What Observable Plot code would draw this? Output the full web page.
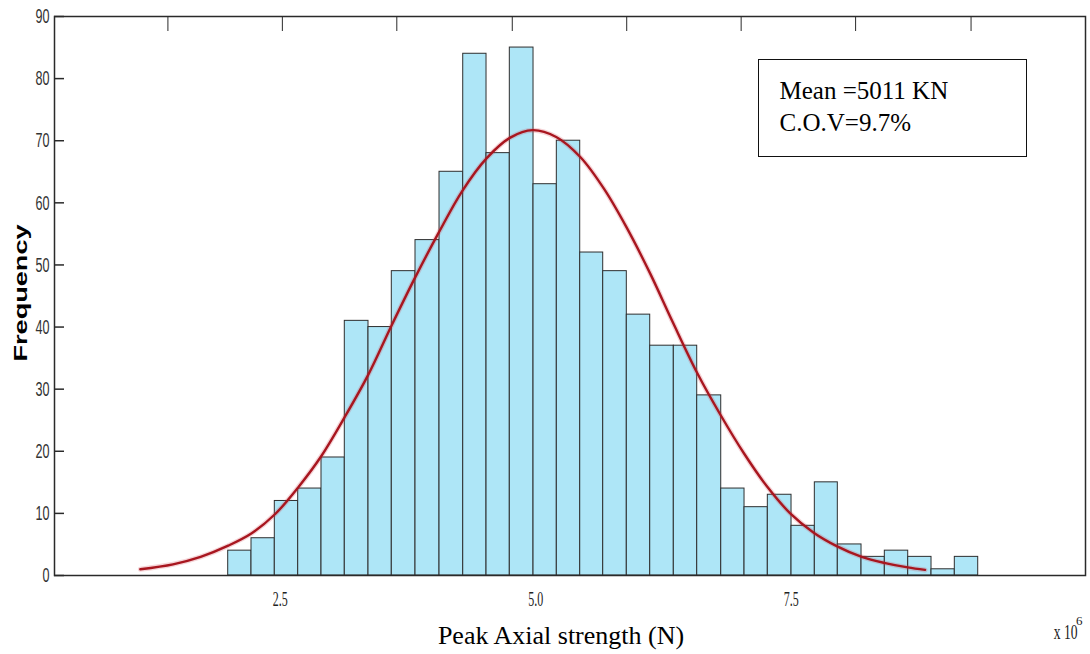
<!DOCTYPE html>
<html>
<head>
<meta charset="utf-8">
<script src="https://cdn.jsdelivr.net/npm/d3@7"></script>
<script src="https://cdn.jsdelivr.net/npm/@observablehq/plot@0.6"></script>
<style>
  html, body { margin: 0; padding: 0; background: #fff; }
  #chart svg { display: block; }
</style>
</head>
<body>
<div id="chart"></div>
<script>
// Histogram bin edges (×10^6 N) and frequencies
const binEdges = [1.990, 2.218, 2.446, 2.675, 2.903, 3.131, 3.363, 3.591, 3.823, 4.058,
                  4.290, 4.518, 4.746, 4.978, 5.206, 5.435, 5.660, 5.891, 6.120, 6.351,
                  6.580, 6.815, 7.043, 7.271, 7.503, 7.731, 7.956, 8.188, 8.416, 8.645,
                  8.873, 9.101, 9.330];
const counts = [4, 6, 12, 14, 19, 41, 40, 49, 54, 65, 84, 68, 85, 63, 70, 52,
                49, 42, 37, 37, 29, 14, 11, 13, 8, 15, 5, 3, 4, 3, 1, 3];

// Fitted normal curve, sampled points
const fitX = [1.13, 1.45, 1.72, 1.99, 2.22, 2.45, 2.68, 2.90, 3.13, 3.36, 3.59, 3.82,
              4.05, 4.28, 4.52, 4.75, 4.97, 5.20, 5.44, 5.67, 5.89, 6.12, 6.34,
              6.58, 6.81, 7.04, 7.26, 7.49, 7.72, 7.95, 8.19, 8.42, 8.64, 8.81];
const fitY = [1.0, 1.8, 3.0, 4.8, 6.8, 9.9, 14.3, 19.2, 25.5, 32.3, 40.3, 48.0,
              55.2, 61.9, 67.2, 70.5, 71.7, 70.6, 67.3, 62.2, 56.0, 48.6, 40.8,
              32.6, 25.8, 19.6, 14.4, 10.0, 6.9, 4.7, 3.0, 2.0, 1.3, 0.9];

// Axis ticks
const yTicks = [0, 10, 20, 30, 40, 50, 60, 70, 80, 90];
const xTickValues = [2.5, 5.0, 7.5];
const topTickValues = [1.40, 2.52, 3.64, 4.77, 5.89, 7.01, 8.13, 9.26];

// Text
const xTitle = "Peak Axial strength (N)";
const yTitle = "Frequency";
const xExponentBase = "x 10";
const xExponent = "6";
const statsText = "Mean =5011 KN\nC.O.V=9.7%";

const bins = counts.map((c, i) => ({lo: binEdges[i], hi: binEdges[i + 1], count: c}));
const fit = fitX.map((x, i) => ({x, y: fitY[i]}));

const serif = "'Liberation Serif', 'Times New Roman', serif";
const sans = "'Liberation Sans', Arial, sans-serif";

const plot = Plot.plot({
  width: 1090,
  height: 654,
  marginLeft: 54,
  marginRight: 5,
  marginTop: 16,
  marginBottom: 79,
  style: {background: "#fff", overflow: "visible"},
  x: {domain: [0.29, 10.38]},
  y: {domain: [0, 90]},
  marks: [
    Plot.rectY(bins, {x1: "lo", x2: "hi", y: "count", fill: "#aee6f7", stroke: "#2e2e2e", strokeWidth: 1}),
    // soft halo under the fitted curve
    Plot.line(fit, {x: "x", y: "y", curve: "catmull-rom", stroke: "#d0404e", strokeWidth: 5, strokeOpacity: 0.22}),
    Plot.line(fit, {x: "x", y: "y", curve: "catmull-rom", stroke: "#a8161f", strokeWidth: 2.4}),
    Plot.frame({stroke: "#2a2a2a", strokeWidth: 1.5}),
    // inward y ticks and top ticks
    Plot.tickY(yTicks, {y: d => d, insetRight: 1021, stroke: "#2a2a2a", strokeWidth: 1.5}),
    Plot.tickX(topTickValues, {x: d => d, insetBottom: 544, stroke: "#2a2a2a", strokeWidth: 1}),
    Plot.axisY({ticks: yTicks, tickSize: 0, tickPadding: 5, label: null, fontSize: 21,
                fontFamily: sans, fill: "#333"}),
    Plot.axisX({ticks: xTickValues, tickFormat: d => d.toFixed(1), tickSize: 0, tickPadding: 16,
                label: null, fontSize: 20, fontFamily: serif, fill: "#222"}),
    // axis titles
    Plot.text([xTitle], {text: d => d, frameAnchor: "bottom", dx: -9, dy: 68, lineAnchor: "bottom",
                         fontSize: 26, fontFamily: serif, fill: "#000"}),
    Plot.text([yTitle], {text: d => d, frameAnchor: "left", textAnchor: "middle", rotate: -90, dx: -28, dy: -3,
                         lineAnchor: "bottom", fontSize: 17.5, fontWeight: "bold", fontFamily: sans,
                         fill: "#000"}),
    Plot.text([xExponentBase], {text: d => d, frameAnchor: "bottom-right", textAnchor: "end",
                                dx: -8, dy: 63, lineAnchor: "bottom", fontSize: 20, fontFamily: serif,
                                fill: "#222"}),
    Plot.text([xExponent], {text: d => d, frameAnchor: "bottom-right", textAnchor: "end",
                            dx: -3, dy: 49, lineAnchor: "bottom", fontSize: 13, fontFamily: serif,
                            fill: "#222"}),
    // statistics box
    Plot.frame({insetLeft: 704, insetRight: 59, insetTop: 43, insetBottom: 419, stroke: "#111", strokeWidth: 1}),
    Plot.text([statsText], {text: d => d, frameAnchor: "top-left", dx: 725, dy: 60, lineAnchor: "top",
                            lineHeight: 1.28, textAnchor: "start", fontSize: 25, fontFamily: serif, fill: "#000"})
  ]
});

document.getElementById("chart").appendChild(plot);

// Narrow (horizontally compressed) tick lettering and a stretched y title
function squeeze(el, sx) {
  const t = el.getAttribute("transform");
  if (t) {
    el.setAttribute("transform", `${t} scale(${sx},1)`);
  } else {
    const x = +el.getAttribute("x") || 0, y = +el.getAttribute("y") || 0;
    el.removeAttribute("x"); el.removeAttribute("y");
    el.setAttribute("transform", `translate(${x},${y}) scale(${sx},1)`);
  }
}
const tickStrings = new Set([...yTicks.map(String), ...xTickValues.map(d => d.toFixed(1))]);
d3.select(plot).selectAll("text").each(function() {
  const s = this.textContent;
  if (tickStrings.has(s)) squeeze(this, 0.6);
  else if (s === xExponentBase) squeeze(this, 0.68);
  else if (s === yTitle) squeeze(this, 1.55);
});
</script>
</body>
</html>
